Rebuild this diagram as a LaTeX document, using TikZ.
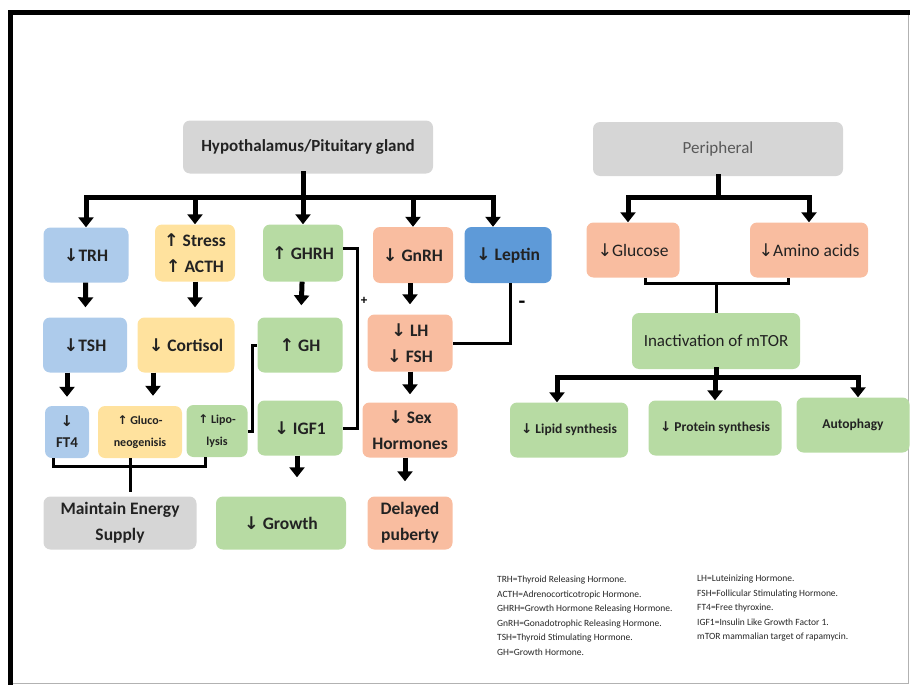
\documentclass[tikz,border=0pt]{standalone}
\usepackage{fontspec}
\setmainfont{Carlito}
\newfontfamily\arrfont{DejaVu Sans}
\usepackage{tikz}
\usetikzlibrary{arrows.meta}
\definecolor{ink}{HTML}{222222}
\definecolor{boxgray}{HTML}{D6D6D6}
\definecolor{bluelt}{HTML}{ADCBEB}
\definecolor{bluedk}{HTML}{5E9AD8}
\definecolor{yellowbox}{HTML}{FFE29E}
\definecolor{greenbox}{HTML}{B7DBA3}
\definecolor{salmonbox}{HTML}{F9BDA0}
\newcommand{\arrdn}{{\arrfont ↓}}
\newcommand{\arrup}{{\arrfont ↑}}
\newcommand{\bigtext}{\bfseries\fontsize{17.5}{26}\selectfont}
\newcommand{\smalltext}{\bfseries\fontsize{12}{22}\selectfont}
\newcommand{\plaintext}{\fontsize{17.5}{20}\selectfont}
\newcommand{\bottomtext}{\bfseries\fontsize{13.5}{16}\selectfont}
\tikzstyle{box}=[rectangle, rounded corners=7pt, align=center, text=ink,
                 inner sep=1pt, minimum width=85pt, minimum height=55pt, font=\bigtext]
\tikzstyle{flow}=[line width=5pt, -{Triangle[width=15pt,length=10pt]}]
\tikzstyle{trunk}=[line width=5pt, line cap=rect]
\tikzstyle{link}=[line width=3pt]
\tikzstyle{sign}=[inner sep=0pt, font=\bfseries\fontsize{13}{13}\selectfont]
\tikzstyle{legend}=[inner sep=0pt, align=left, text=black!85,
                    font=\fontsize{9.5}{14.5}\selectfont]

\begin{document}
\begin{tikzpicture}[x=1pt,y=-1pt]
  \useasboundingbox (0,0) rectangle (910,685);
  % frame
  \draw[line width=5pt] (10.5,685) -- (10.5,12.5) -- (910,12.5);
  \draw[black!30, line width=1pt] (13,683) -- (908,683) -- (908,15);

  % top boxes
  \node[box, fill=boxgray, minimum width=250pt, minimum height=53pt, font=\bfseries\fontsize{17}{20}\selectfont]
    (hyp) at (308,147) {Hypothalamus/Pituitary gland};
  \node[box, fill=boxgray, minimum width=250pt, minimum height=54pt, font=\fontsize{17}{20}\selectfont, text=black!65]
    (peri) at (718,149) {Peripheral};

  % first row
  \node[box, fill=bluelt] (trh) at (86,255) {\arrdn TRH};
  \node[box, fill=yellowbox, minimum width=80pt, minimum height=57pt] (stress) at (195,253)
    {\arrup\ Stress\\\arrup\ ACTH};
  \node[box, fill=greenbox, minimum width=80pt, minimum height=57pt] (ghrh) at (303,253) {\arrup\ GHRH};
  \node[box, fill=salmonbox, minimum width=80pt, minimum height=56pt] (gnrh) at (413,255) {\arrdn\ GnRH};
  \node[box, fill=bluedk, minimum width=87pt, minimum height=56pt] (leptin) at (508,255) {\arrdn\ Leptin};
  \node[box, fill=salmonbox, minimum width=93pt, font=\plaintext] (glucose) at (633,250) {\arrdn Glucose};
  \node[box, fill=salmonbox, minimum width=118pt, font=\plaintext] (amino) at (809,250) {\arrdn Amino acids};

  % second row
  \node[box, fill=bluelt, minimum width=84pt] (tsh) at (85,345) {\arrdn TSH};
  \node[box, fill=yellowbox, minimum width=97pt] (cortisol) at (186,345) {\arrdn\ Cortisol};
  \node[box, fill=greenbox] (gh) at (300,345) {\arrup\ GH};
  \node[box, fill=salmonbox, minimum height=57pt] (lhfsh) at (410,343) {\arrdn\ LH\\\arrdn\ FSH};
  \node[box, fill=greenbox, minimum width=168pt, minimum height=56pt, font=\fontsize{17}{20}\selectfont] (mtor) at (716,341)
    {Inactivation of mTOR};

  % third row
  \node[box, fill=bluelt, minimum width=44pt, minimum height=52pt, font=\bfseries\fontsize{15}{21}\selectfont] (ft4) at (67,432)
    {\arrdn\\FT4};
  \node[box, fill=yellowbox, minimum width=84pt, minimum height=52pt, font=\smalltext] (gluco) at (140,432)
    {\arrup\ Gluco-\\neogenisis};
  \node[box, fill=greenbox, minimum width=61pt, minimum height=52pt, font=\smalltext] (lipo) at (217,431)
    {\arrup\ Lipo-\\lysis};
  \node[box, fill=greenbox] (igf1) at (300,428) {\arrdn\ IGF1};
  \node[box, fill=salmonbox, minimum width=95pt] (sex) at (410,430) {\arrdn\ Sex\\Hormones};
  \node[box, fill=greenbox, minimum width=118pt, font=\bottomtext] (lipid) at (569,430)
    {\arrdn\ Lipid synthesis};
  \node[box, fill=greenbox, minimum width=133pt, font=\bottomtext] (protein) at (715,428)
    {\arrdn\ Protein synthesis};
  \node[box, fill=greenbox, minimum width=113pt, font=\bottomtext] (autophagy) at (853,425)
    {Autophagy};

  % last row
  \node[box, fill=boxgray, minimum width=153pt, minimum height=53pt] (maintain) at (120,523)
    {Maintain Energy\\Supply};
  \node[box, fill=greenbox, minimum width=130pt, minimum height=53pt] (growth) at (281,523) {\arrdn\ Growth};
  \node[box, fill=salmonbox, minimum height=53pt] (puberty) at (410,523) {Delayed\\puberty};

  % hypothalamus tree
  \coordinate (hbar) at (303,197);
  \draw[trunk] (hyp.south -| hbar) -- (hbar);
  \draw[trunk] (trh.north |- hbar) -- ([xshift=-15pt]leptin.north |- hbar);
  \foreach \n in {trh,stress,ghrh,gnrh}
    \draw[flow] (\n.north |- hbar) -- (\n.north);
  \draw[flow] ([xshift=-15pt]leptin.north |- hbar) -- ([xshift=-15pt]leptin.north);

  % peripheral tree
  \coordinate (pbar) at (718,197);
  \draw[trunk] (peri.south) -- (pbar);
  \draw[trunk] ([xshift=-5pt]glucose.north |- pbar) -- (amino.north |- pbar);
  \draw[flow] ([xshift=-5pt]glucose.north |- pbar) -- ([xshift=-5pt]glucose.north);
  \draw[flow] (amino.north |- pbar) -- (amino.north);
  \coordinate (pjoin) at (716,283);
  \draw[link] ([xshift=12pt]glucose.south) |- (pjoin) -| ([xshift=-21pt]amino.south);
  \draw[link] (pjoin) -- (mtor.north);

  % mTOR tree
  \coordinate (mbar) at (716,377);
  \draw[trunk] (mtor.south) -- (mbar);
  \draw[trunk] ([xshift=-12pt]lipid.north |- mbar) -- ([xshift=5pt]autophagy.north |- mbar);
  \draw[flow] ([xshift=-12pt]lipid.north |- mbar) -- ([xshift=-12pt]lipid.north);
  \draw[flow] (protein.north |- mbar) -- (protein.north);
  \draw[flow] ([xshift=5pt]autophagy.north |- mbar) -- ([xshift=5pt]autophagy.north);

  % downward steps
  \draw[flow, shorten >=10pt] (trh) -- (tsh);
  \draw[flow, shorten >=10pt] (stress) -- (stress |- cortisol.north);
  \draw[flow, shorten >=12pt] (ghrh) -- (gh);
  \draw[flow, shorten >=10pt] (gnrh.south -| lhfsh) -- (lhfsh);
  \draw[flow, shorten >=9pt] (ft4.north |- tsh.south) -- (ft4.north);
  \draw[flow, shorten >=10pt] ([xshift=13pt]gluco.north |- cortisol.south) -- ([xshift=13pt]gluco.north);
  \draw[flow, shorten >=8pt] (lhfsh) -- (sex);
  \draw[flow, shorten >=19pt] ([xshift=-3pt]igf1.south) -- ([xshift=-3pt]igf1.south |- growth.north);
  \draw[flow, shorten >=15pt] ([xshift=-5pt]sex.south) -- ([xshift=-5pt]sex.south |- puberty.north);

  % feedback links
  \draw[link] ([yshift=5pt]ghrh.east) -- ++(14,0) |- (igf1.east);
  \node[sign] (plus) at (364,301) {+};
  \draw[link] ([xshift=2pt]leptin.south) |- (lhfsh.east);
  \node[sign, font=\bfseries\fontsize{22}{22}\selectfont] (minus) at (522,305) {-};
  \draw[link] (lipo.east) -- ++(5,0) |- (gh.west);
  \draw[link] ([xshift=-14pt]ft4.south) -- ++(0,8) -| ([xshift=-12pt]lipo.south);
  \draw[link, shorten >=4pt] ([xshift=-10pt]gluco.south) -- ([xshift=-10pt]gluco.south |- maintain.north);

  % abbreviations
  \node[legend, anchor=north west] (abbrl) at (497,576)
    {TRH=Thyroid Releasing Hormone.\\ACTH=Adrenocorticotropic Hormone.\\
     GHRH=Growth Hormone Releasing Hormone.\\GnRH=Gonadotrophic Releasing Hormone.\\
     TSH=Thyroid Stimulating Hormone.\\GH=Growth Hormone.};
  \node[legend, anchor=north west] (abbrr) at (697,575)
    {LH=Luteinizing Hormone.\\FSH=Follicular Stimulating Hormone.\\FT4=Free thyroxine.\\
     IGF1=Insulin Like Growth Factor 1.\\mTOR mammalian target of rapamycin.};
\end{tikzpicture}
\end{document}
